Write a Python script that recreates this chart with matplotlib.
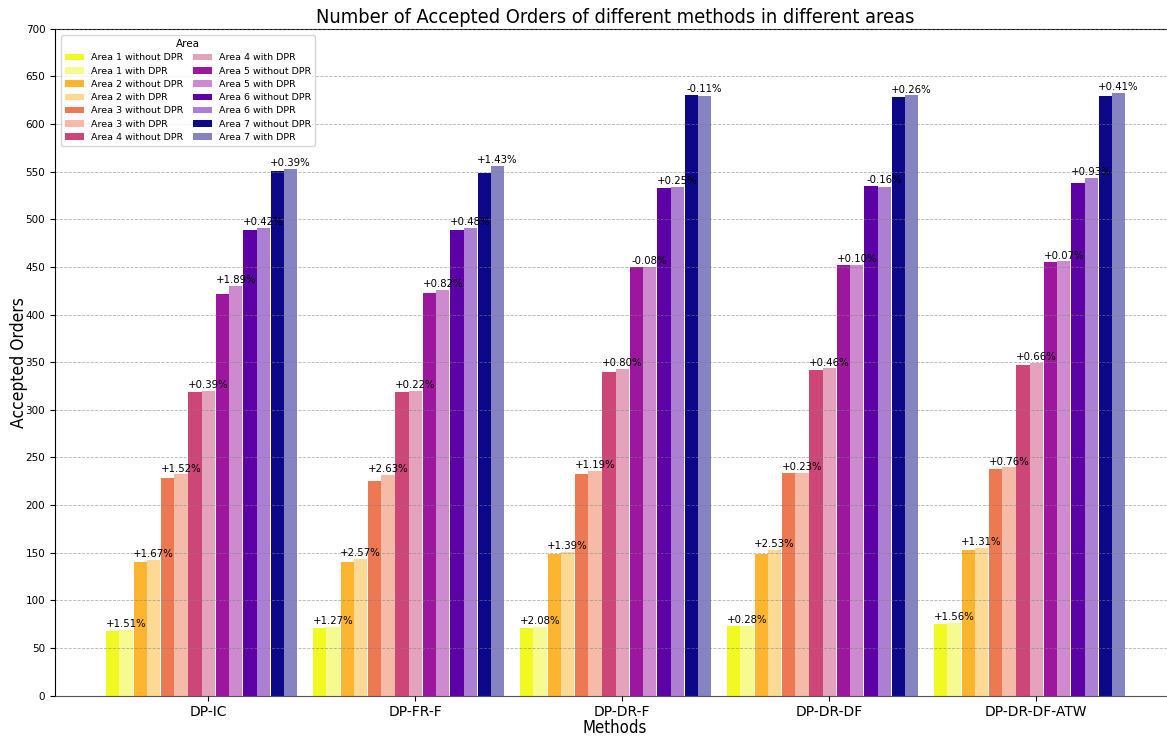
import matplotlib
matplotlib.use("Agg")
import matplotlib.pyplot as plt
import numpy as np

methods = ["DP-IC", "DP-FR-F", "DP-DR-F", "DP-DR-DF", "DP-DR-DF-ATW"]
areas = ["Area 1", "Area 2", "Area 3", "Area 4", "Area 5", "Area 6", "Area 7"]

# rows: areas, columns: methods
without_dpr = [
    [68.0, 71.4, 71.0, 73.1, 75.1],
    [140.4, 140.3, 148.6, 149.0, 152.9],
    [228.7, 225.7, 232.9, 233.7, 237.9],
    [318.7, 318.9, 340.0, 342.0, 347.1],
    [421.9, 422.7, 449.8, 452.0, 455.4],
    [489.1, 489.0, 533.0, 535.1, 538.4],
    [550.6, 548.6, 630.5, 628.5, 629.7],
]
with_dpr = [
    [69.0, 72.3, 72.5, 73.3, 76.3],
    [142.7, 143.9, 150.7, 152.8, 154.9],
    [232.2, 231.6, 235.7, 234.2, 239.7],
    [319.9, 319.6, 342.7, 343.6, 349.4],
    [429.9, 426.2, 449.5, 452.5, 455.7],
    [491.2, 491.3, 534.3, 534.2, 543.4],
    [552.8, 556.4, 629.8, 630.1, 632.3],
]
pct_labels = [
    ["+1.51%", "+1.27%", "+2.08%", "+0.28%", "+1.56%"],
    ["+1.67%", "+2.57%", "+1.39%", "+2.53%", "+1.31%"],
    ["+1.52%", "+2.63%", "+1.19%", "+0.23%", "+0.76%"],
    ["+0.39%", "+0.22%", "+0.80%", "+0.46%", "+0.66%"],
    ["+1.89%", "+0.82%", "-0.08%", "+0.10%", "+0.07%"],
    ["+0.42%", "+0.48%", "+0.25%", "-0.16%", "+0.93%"],
    ["+0.39%", "+1.43%", "-0.11%", "+0.26%", "+0.41%"],
]

W, H = 1167, 737
fig = plt.figure(figsize=(W / 100, H / 100), dpi=100)
ax = fig.add_axes([55 / W, (H - 695.7) / H, 1120 / W, (695.7 - 28.7) / H])

cmap = plt.get_cmap("plasma")
colors = [cmap(v) for v in np.linspace(1, 0, 7)]
x = np.arange(len(methods))
w = 0.064
s = 0.1325

handles = []
for k in range(7):
    xw = x + (k - 3) * s - w
    xd = x + (k - 3) * s
    b1 = ax.bar(xw, without_dpr[k], width=w, color=colors[k],
                label=f"{areas[k]} without DPR", zorder=2)
    b2 = ax.bar(xd, with_dpr[k], width=w, color=colors[k], alpha=0.5,
                label=f"{areas[k]} with DPR", zorder=2)
    handles += [b1, b2]
    for j in range(len(methods)):
        top = max(without_dpr[k][j], with_dpr[k][j])
        ax.text(xd[j], top + 0.8, pct_labels[k][j], ha="center", va="bottom",
                fontsize=7.3, zorder=4)

ax.set_xlim(-0.7406, 4.670)
ax.set_ylim(0, 700)
ax.set_yticks(np.arange(0, 701, 50))
ax.set_xticks(x)
ax.set_xticklabels(methods, fontsize=10)
ax.tick_params(axis="y", labelsize=7.5)
ax.yaxis.grid(True, linestyle="--", color="gray", linewidth=0.6, alpha=0.6, zorder=3)
ax.set_axisbelow(False)
ax.spines["bottom"].set_color("#555555")

ax.set_title("Number of Accepted Orders of different methods in different areas",
             fontsize=14.3, fontstretch="condensed", pad=4)
ax.set_xlabel("Methods", fontsize=12, fontstretch="condensed", labelpad=0)
ax.set_ylabel("Accepted Orders", fontsize=12.5, fontstretch="condensed", labelpad=-1.5)

leg = ax.legend(handles=handles, title="Area", ncol=2, fontsize=6.8, title_fontsize=7.5,
                loc="upper left", bbox_to_anchor=(0.001, 0.997), columnspacing=1.0,
                handlelength=2.0, labelspacing=0.45, borderpad=0.4)
leg.set_zorder(5)

fig.savefig("out.png", dpi=100)
